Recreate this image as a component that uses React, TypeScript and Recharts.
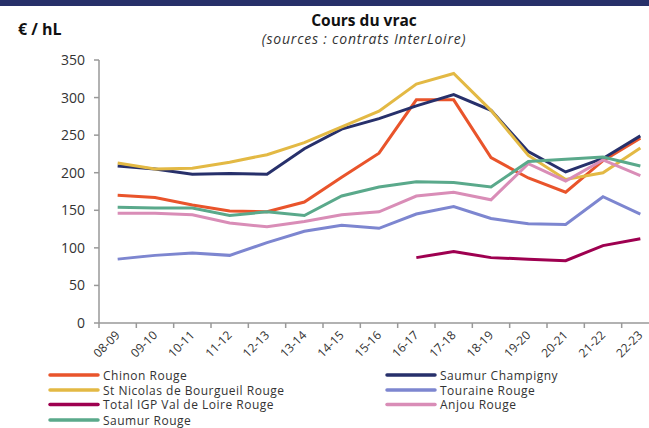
import React from 'react';
import { LineChart, Line, XAxis, YAxis } from 'recharts';

const seasons = ['08-09', '09-10', '10-11', '11-12', '12-13', '13-14', '14-15', '15-16', '16-17', '17-18', '18-19', '19-20', '20-21', '21-22', '22-23'];

const chinonRouge = [170, 167, 157, 149, 148, 161, 194, 226, 297, 297, 220, 193, 174, 216, 246];
const saumurChampigny = [209, 205, 198, 199, 198, 232, 258, 272, 289, 304, 283, 228, 201, 219, 249];
const stNicolas = [213, 205, 206, 214, 224, 240, 261, 282, 318, 332, 283, 223, 191, 200, 233];
const touraineRouge = [85, 90, 93, 90, 107, 122, 130, 126, 145, 155, 139, 132, 131, 168, 145];
const igpValDeLoire = [null, null, null, null, null, null, null, null, 87, 95, 87, 85, 83, 103, 112];
const anjouRouge = [146, 146, 144, 133, 128, 135, 144, 148, 169, 174, 164, 212, 189, 217, 196];
const saumurRouge = [154, 153, 153, 143, 148, 143, 169, 181, 188, 187, 181, 215, 218, 221, 209];

const yTicks = [0, 50, 100, 150, 200, 250, 300, 350];

const series = [
  { key: 'chinon', name: 'Chinon Rouge', color: '#e9542b', values: chinonRouge },
  { key: 'champigny', name: 'Saumur Champigny', color: '#27306b', values: saumurChampigny },
  { key: 'stnicolas', name: 'St Nicolas de Bourgueil Rouge', color: '#e3b944', values: stNicolas },
  { key: 'touraine', name: 'Touraine Rouge', color: '#7d86d0', values: touraineRouge },
  { key: 'igp', name: 'Total IGP Val de Loire Rouge', color: '#9e0050', values: igpValDeLoire },
  { key: 'anjou', name: 'Anjou Rouge', color: '#d98db7', values: anjouRouge },
  { key: 'saumur', name: 'Saumur Rouge', color: '#5aa98b', values: saumurRouge },
];

const data = seasons.map((s, i) => {
  const row: any = { season: s, pos: i + 0.5 };
  series.forEach((sr) => {
    row[sr.key] = sr.values[i];
  });
  return row;
});

const FONT = '"Open Sans", sans-serif';
const CHART_W = 680;
const CHART_H = 428;
const MARGIN = { top: 60, right: 21, left: 0, bottom: 0 };
const Y_W = 99;
const X_H = 105;
const BAND = (CHART_W - MARGIN.left - MARGIN.right - Y_W) / seasons.length;

const XTick = (props: any) => {
  const { x, y, payload } = props;
  const idx = payload.value;
  if (idx >= seasons.length) return null;
  const ax = x + BAND / 2 + 3;
  const ay = y + 6;
  return (
    <text
      x={ax}
      y={ay}
      textAnchor="end"
      fontSize={12}
      fontFamily={FONT}
      fill="#333"
      transform={`rotate(-45, ${ax}, ${ay})`}
    >
      {seasons[idx]}
    </text>
  );
};

const legendPos = [
  { x: 50, y: 375 },
  { x: 387, y: 375 },
  { x: 50, y: 390 },
  { x: 387, y: 390 },
  { x: 50, y: 404.5 },
  { x: 387, y: 404.5 },
  { x: 50, y: 420 },
];

export default function App() {
  return (
    <div style={{ position: 'absolute', left: 0, top: 0, width: 649, height: 428, overflow: 'hidden', background: '#fff' }}>
      <div style={{ position: 'absolute', left: 0, top: 0 }}>
        <LineChart width={CHART_W} height={CHART_H} data={data} margin={MARGIN}>
          <XAxis
            type="number"
            dataKey="pos"
            domain={[0, seasons.length]}
            ticks={seasons.map((_, i) => i).concat([seasons.length])}
            interval={0}
            height={X_H}
            tickSize={5}
            tickMargin={2}
            axisLine={{ stroke: '#999', strokeWidth: 1.5 }}
            tickLine={{ stroke: '#999', strokeWidth: 1.5 }}
            tick={<XTick />}
            allowDataOverflow
          />
          <YAxis
            domain={[0, 350]}
            ticks={yTicks}
            interval={0}
            width={Y_W}
            tickSize={5}
            tickMargin={9}
            axisLine={{ stroke: '#999', strokeWidth: 1.5 }}
            tickLine={{ stroke: '#999', strokeWidth: 1.5 }}
            tick={{ fontSize: 14, fontFamily: FONT, fill: '#333' }}
          />
          {series.map((s) => (
            <Line
              key={s.key}
              type="linear"
              dataKey={s.key}
              name={s.name}
              stroke={s.color}
              strokeWidth={3}
              dot={false}
              activeDot={false}
              isAnimationActive={false}
            />
          ))}
        </LineChart>
      </div>
      <div style={{ position: 'absolute', left: 0, top: 0, width: 649, height: 6, background: '#273069' }} />
      <svg width={649} height={428} style={{ position: 'absolute', left: 0, top: 0, pointerEvents: 'none' }}>
        <text x={18} y={35} fontFamily={FONT} fontWeight="bold" fontSize={16} fill="#111">€ / hL</text>
        <text x={364} y={26} textAnchor="middle" fontFamily={FONT} fontWeight="bold" fontSize={15.5} fill="#111">Cours du vrac</text>
        <text x={364} y={44} textAnchor="middle" fontFamily={FONT} fontStyle="italic" fontSize={14} letterSpacing={0.8} fill="#333">(sources : contrats InterLoire)</text>
        {series.map((s, i) => (
          <g key={s.key}>
            <line x1={legendPos[i].x} x2={legendPos[i].x + 48} y1={legendPos[i].y} y2={legendPos[i].y} stroke={s.color} strokeWidth={3.5} strokeLinecap="round" />
            <text x={legendPos[i].x + 53} y={legendPos[i].y + 4.5} fontFamily={FONT} fontSize={12} letterSpacing={0.5} fill="#333">{s.name}</text>
          </g>
        ))}
      </svg>
    </div>
  );
}
